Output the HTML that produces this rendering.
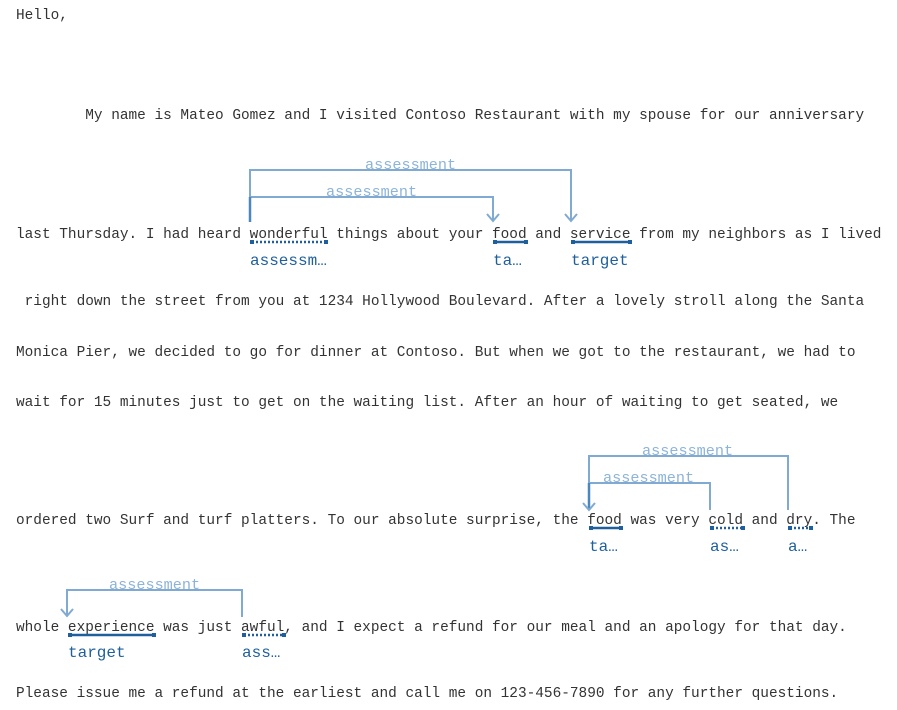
<!DOCTYPE html>
<html><head><meta charset="utf-8"><style>
html,body{margin:0;padding:0;background:#fff;width:897px;height:710px;overflow:hidden}
svg text{font-family:"Liberation Mono",monospace;font-size:14.43px;white-space:pre}
.t{fill:#333}
svg text.l{fill:#1e5f9c;font-size:16px}
svg text.a{fill:#8db4d9;font-size:15.2px}
.arc{fill:none;stroke:#80aad2;stroke-width:2}
.u{stroke:#1e5f9c;stroke-width:2.5}
.d{stroke:#1e5f9c;stroke-width:2.5;stroke-dasharray:2 2}
.e{fill:#1e5f9c}
</style></head><body>
<svg width="897" height="710" xmlns="http://www.w3.org/2000/svg" xml:space="preserve">
<text class="t" x="16" y="19">Hello,</text>
<text class="t" x="16" y="119">        My name is Mateo Gomez and I visited Contoso Restaurant with my spouse for our anniversary</text>

<path class="arc" d="M250 222 V170 H571 V220"/>
<path class="arc" d="M250 197 H493 V220"/>
<path d="M250 197 V222" stroke="#4b86bd" stroke-width="2.5"/>
<path class="arc" d="M487 214 L493 221 L499 214"/>
<path class="arc" d="M565 214 L571 221 L577 214"/>
<text class="a" x="365" y="169">assessment</text>
<text class="a" x="326" y="196">assessment</text>

<text class="t" x="16" y="238">last Thursday. I had heard wonderful things about your food and service from my neighbors as I lived</text>
<line class="d" x1="252" y1="242" x2="326" y2="242"/>
<rect class="e" x="250" y="240" width="4" height="4"/><rect class="e" x="324" y="240" width="4" height="4"/>
<line class="u" x1="493" y1="242" x2="527" y2="242"/>
<rect class="e" x="493" y="240" width="4" height="4"/><rect class="e" x="524" y="240" width="4" height="4"/>
<line class="u" x1="571" y1="242" x2="631" y2="242"/>
<rect class="e" x="571" y="240" width="4" height="4"/><rect class="e" x="628" y="240" width="4" height="4"/>
<text class="l" x="250" y="265">assessm…</text>
<text class="l" x="493" y="265">ta…</text>
<text class="l" x="571" y="265">target</text>

<text class="t" x="16" y="305"> right down the street from you at 1234 Hollywood Boulevard. After a lovely stroll along the Santa</text>
<text class="t" x="16" y="356">Monica Pier, we decided to go for dinner at Contoso. But when we got to the restaurant, we had to</text>
<text class="t" x="16" y="406">wait for 15 minutes just to get on the waiting list. After an hour of waiting to get seated, we</text>

<path class="arc" d="M589 510 V456 H788 V510"/>
<path class="arc" d="M589 483 H710 V510"/>
<path d="M589 483 V510" stroke="#4b86bd" stroke-width="2.5"/>
<path class="arc" d="M583 503 L589 510 L595 503"/>
<text class="a" x="642" y="455">assessment</text>
<text class="a" x="603" y="482">assessment</text>

<text class="t" x="16" y="524">ordered two Surf and turf platters. To our absolute surprise, the food was very cold and dry. The</text>
<line class="u" x1="589" y1="528" x2="622" y2="528"/>
<rect class="e" x="589" y="526" width="4" height="4"/><rect class="e" x="619" y="526" width="4" height="4"/>
<line class="d" x1="712" y1="528" x2="742" y2="528"/>
<rect class="e" x="710" y="526" width="4" height="4"/><rect class="e" x="741" y="526" width="4" height="4"/>
<line class="d" x1="790" y1="528" x2="810" y2="528"/>
<rect class="e" x="788" y="526" width="4" height="4"/><rect class="e" x="809" y="526" width="4" height="4"/>
<text class="l" x="589" y="551">ta…</text>
<text class="l" x="710" y="551">as…</text>
<text class="l" x="788" y="551">a…</text>

<path class="arc" d="M67 616 V590 H242 V617"/>
<path class="arc" d="M61 609 L67 616 L73 609"/>
<text class="a" x="109" y="589">assessment</text>

<text class="t" x="16" y="631">whole experience was just awful, and I expect a refund for our meal and an apology for that day.</text>
<line class="u" x1="68" y1="635" x2="155" y2="635"/>
<rect class="e" x="68" y="633" width="4" height="4"/><rect class="e" x="152" y="633" width="4" height="4"/>
<line class="d" x1="244" y1="635" x2="284" y2="635"/>
<rect class="e" x="242" y="633" width="4" height="4"/><rect class="e" x="282" y="633" width="4" height="4"/>
<text class="l" x="68" y="657">target</text>
<text class="l" x="242" y="657">ass…</text>

<text class="t" x="16" y="697">Please issue me a refund at the earliest and call me on 123-456-7890 for any further questions.</text>
</svg>
</body></html>
